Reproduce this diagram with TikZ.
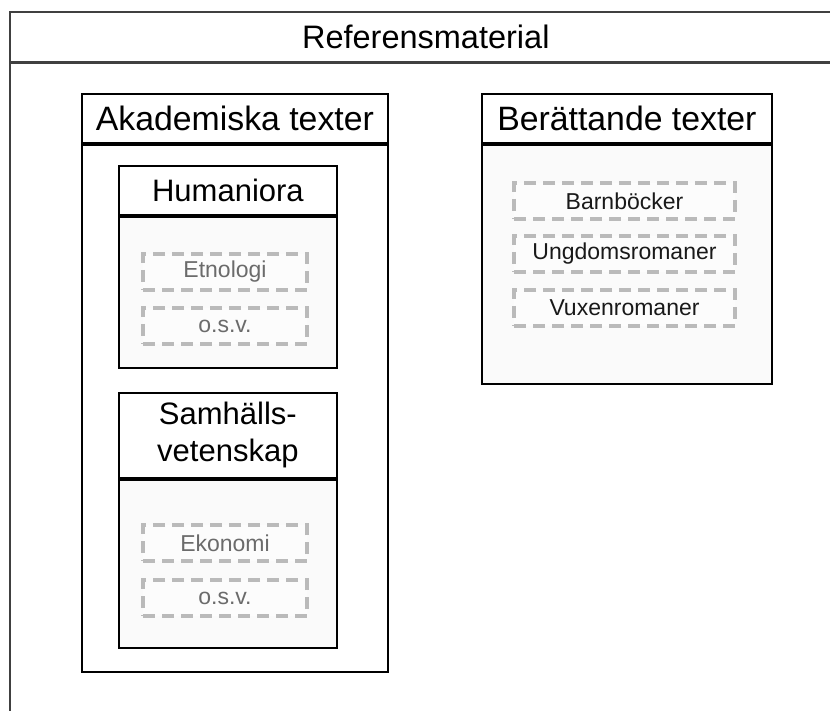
\documentclass[tikz,border=0pt]{standalone}
\usepackage{fontspec}
\setmainfont{Liberation Sans}
\begin{document}
\begin{tikzpicture}[x=1pt,y=-1pt,
  frameline/.style={draw=black!75, line width=1.6pt},
  boxline/.style={draw=black, line width=1.8pt},
  head/.style={boxline, fill=white, inner sep=0pt, anchor=north west, align=center},
  body/.style={boxline, fill=black!2, inner sep=0pt, anchor=north west},
  titletext/.style={font=\fontsize{32.5}{39}\selectfont},
  bigtext/.style={font=\fontsize{33.8}{40}\selectfont},
  midtext/.style={font=\fontsize{31}{37}\selectfont},
  item/.style={draw=black!27, line width=3.5pt, dash pattern=on 12pt off 7pt,
    fill=black!1, minimum width=#1, minimum height=36pt, inner sep=0pt,
    font=\fontsize{23}{28}\selectfont},
  faint/.style={text=black!58},
  dark/.style={text=black!90}]
\useasboundingbox (0,0) rectangle (830,711);
\clip (0,0) rectangle (830,711);
\fill[white] (0,0) rectangle (830,711);

% outer frame, running past the page edge
\node[head, frameline, minimum width=850pt, minimum height=50pt, titletext] (refhead) at (9,11) {\hspace*{-18pt}Referensmaterial};
\node[body, frameline, fill=white, minimum width=850pt, minimum height=700pt] (refbody) at (refhead.south west) {};

% Akademiska texter
\node[head, minimum width=306pt, minimum height=49pt, bigtext] (akhead) at (81,93) {Akademiska texter};
\node[body, fill=white, minimum width=306pt, minimum height=527pt] (akbody) at (akhead.south west) {};

% Humaniora
\node[head, minimum width=218pt, minimum height=49pt, midtext] (humhead) at (118,165) {Humaniora};
\node[body, minimum width=218pt, minimum height=151pt] (humbody) at (humhead.south west) {};
\node[item=164pt, faint] (etn) at (225,272) {Etnologi};
\node[item=164pt, faint] (osv1) at (225,326) {o.s.v.};

% Samhällsvetenskap
\node[head, minimum width=218pt, minimum height=85pt, midtext] (samhead) at (118,392) {Samhälls-\\vetenskap};
\node[body, minimum width=218pt, minimum height=168pt] (sambody) at (samhead.south west) {};
\node[item=164pt, faint] (eko) at (225,543) {Ekonomi};
\node[item=164pt, faint] (osv2) at (225,598) {o.s.v.};

% Berättande texter
\node[head, minimum width=290pt, minimum height=49pt, bigtext] (behead) at (481,93) {Berättande texter};
\node[body, minimum width=290pt, minimum height=239pt] (bebody) at (behead.south west) {};
\node[item=221pt, dark] (barn) at (624.5,201) {Barnböcker};
\node[item=221pt, dark] (ungd) at (624.5,254) {Ungdomsromaner};
\node[item=221pt, dark] (vuxen) at (624.5,308) {Vuxenromaner};
\end{tikzpicture}
\end{document}
